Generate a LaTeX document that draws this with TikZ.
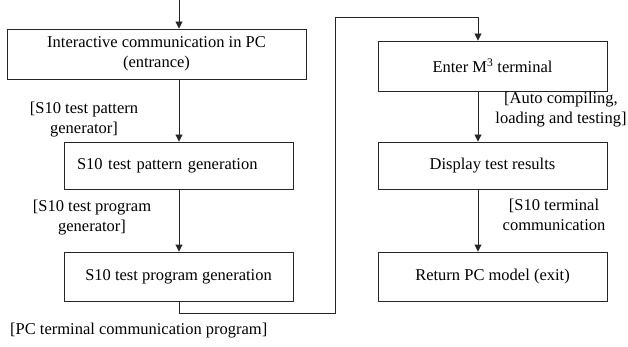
\documentclass[tikz,border=0pt]{standalone}
\usepackage{fontspec}
\setmainfont{Liberation Serif}
\usetikzlibrary{arrows.meta}

\tikzset{
  flowbox/.style={draw=black!85, line width=0.9pt, inner sep=0pt,
    minimum width=229pt, align=center},
  note/.style={inner sep=0pt, align=center},
  link/.style={draw=black!85, line width=0.9pt},
  arr/.style={link, -{Triangle[length=7pt,width=7pt]}},
}

\begin{document}
\begin{tikzpicture}[x=1pt, y=-1pt,
  every node/.append style={font=\fontsize{16.5}{20}\selectfont}]
  \useasboundingbox (0,0) rectangle (628,347);

  % left column
  \node[flowbox, minimum width=299pt, minimum height=50pt] (b1) at (156.5,54)
    {Interactive communication in PC\\(entrance)};
  \node[flowbox, minimum height=47pt, text width=203pt, inner xsep=13pt, align=left]
    (b2) at (178.5,165.5) {S10 test pattern generation};
  \node[flowbox, minimum height=49pt] (b3) at (178.5,276.5)
    {S10 test program generation};

  % right column
  \node[flowbox, minimum height=50pt] (b4) at (492.5,66)
    {Enter M\textsuperscript{3} terminal};
  \node[flowbox, minimum height=47pt] (b5) at (492.5,165.5)
    {Display test results};
  \node[flowbox, minimum height=49pt] (b6) at (492.5,276.5)
    {Return PC model (exit)};

  % labels
  \node[note] (l1) at (84,120) {[S10 test pattern\\generator]};
  \node[note] (l2) at (92,217.5) {[S10 test program\\generator]};
  \node[note] (l3) at (561,110) {[Auto compiling,\\loading and testing]};
  \node[note] (l4) at (554,215) {[S10 terminal\\communication};
  \node[note, anchor=west] (l5) at (10,331) {[PC terminal communication program]};

  % routing points
  \coordinate (start) at (179,0);
  \coordinate (xl) at (179,0);
  \coordinate (xr) at (478,0);
  \coordinate (c1) at (179,313);
  \coordinate (c2) at (335,313);
  \coordinate (c3) at (335,17.5);
  \coordinate (c4) at (478,17.5);

  % connectors
  \draw[arr] (start) -- (b1.north -| start);
  \draw[arr] (b1.south -| xl) -- (b2.north -| xl);
  \draw[arr] (b2.south -| xl) -- (b3.north -| xl);
  \draw[arr] (b3.south -| xl) -- (c1) -- (c2) -- (c3) -- (c4) -- (b4.north -| xr);
  \draw[arr] (b4.south -| xr) -- (b5.north -| xr);
  \draw[arr] (b5.south -| xr) -- (b6.north -| xr);
\end{tikzpicture}
\end{document}
